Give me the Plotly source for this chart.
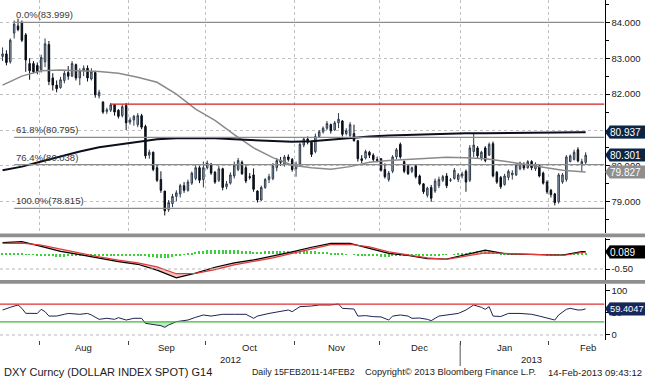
import numpy as np
import pandas as pd
import plotly.graph_objects as go

# ---------------- data ----------------
days = pd.bdate_range("2012-07-18", "2013-02-14")
dates = [d.strftime("%Y-%m-%d") for d in days]

opens = [
    83.05, 83.12, 82.90, 83.70, 83.90, 84.00, 83.65, 82.85, 82.85, 82.80,
    82.68, 82.90, 83.38, 82.45, 82.25, 82.18, 82.38, 82.60, 82.50, 82.82, 82.45, 82.65,
    82.72, 82.42, 82.60, 81.95, 81.78, 81.52, 81.55, 81.70, 81.55, 81.40, 81.68,
    81.22, 81.28, 81.15, 81.40, 81.10, 80.30, 80.38, 79.95, 79.62, 79.30, 78.78, 78.95,
    79.15, 79.22, 79.45, 79.32, 79.52, 79.65, 79.95, 79.62,
    79.95, 80.05, 79.82, 79.60, 79.92, 79.42, 79.52, 79.72, 79.90, 80.10, 79.95, 79.70,
    79.75, 79.30, 79.05, 79.40, 79.62, 79.65, 79.95, 80.15, 80.05, 80.25, 80.18,
    79.92, 80.05, 80.58, 80.75, 80.66, 80.40, 80.82, 80.95, 81.05, 81.15, 81.00, 81.20,
    81.25, 80.90, 80.85, 80.90, 80.70, 80.20, 80.22, 80.38, 80.30, 80.18,
    80.20, 79.90, 79.62, 79.85, 80.25, 80.60, 80.12, 80.00, 79.85, 80.00, 79.72, 79.50,
    79.18, 79.40, 79.30, 79.45, 79.60, 79.72, 79.60, 79.65, 79.62,
    79.72, 79.85, 79.60, 80.40, 80.50, 80.22, 80.50, 80.30, 80.62, 79.82, 79.68, 79.48,
    79.68, 79.75, 79.75, 79.92, 80.02, 79.95, 80.12, 79.92, 80.00, 79.80, 79.55,
    79.32, 79.22, 79.00, 79.55, 79.62, 80.12, 80.18, 80.45, 80.05, 80.10,
]
highs = [
    83.30, 83.22, 83.55, 84.05, 84.10, 84.05, 83.70, 83.00, 82.92, 82.88,
    83.10, 83.55, 83.48, 82.58, 82.38, 82.48, 82.65, 82.78, 82.92, 82.85, 82.72, 82.80,
    82.80, 82.72, 82.65, 82.12, 81.80, 81.62, 81.75, 81.72, 81.58, 81.70, 81.75,
    81.35, 81.42, 81.47, 81.45, 81.15, 80.45, 80.40, 80.05, 79.85, 79.30, 79.05, 79.22,
    79.32, 79.50, 79.55, 79.62, 79.84, 80.02, 80.00, 80.12,
    80.15, 80.08, 79.86, 80.00, 79.95, 79.58, 79.82, 80.12, 80.22, 80.15, 80.02, 79.80,
    79.93, 79.32, 79.45, 79.66, 79.78, 80.08, 80.22, 80.25, 80.30, 80.32, 80.22,
    80.12, 80.65, 80.80, 80.82, 80.70, 80.90, 81.00, 81.10, 81.25, 81.18, 81.25, 81.47,
    81.28, 81.05, 81.22, 81.15, 80.72, 80.30, 80.45, 80.42, 80.35, 80.26,
    80.22, 80.07, 79.86, 80.30, 80.50, 80.65, 80.15, 80.05, 79.98, 80.03, 79.76, 79.52,
    79.42, 79.47, 79.65, 79.70, 79.75, 79.80, 79.66, 79.94, 79.80,
    79.84, 79.90, 80.58, 80.92, 80.55, 80.42, 80.55, 80.65, 80.68, 79.86, 79.72, 79.78,
    79.90, 79.88, 80.08, 80.12, 80.10, 80.16, 80.16, 80.10, 80.04, 79.84, 79.60,
    79.36, 79.25, 79.80, 79.80, 80.30, 80.32, 80.45, 80.52, 80.20, 80.38,
]
lows = [
    82.92, 82.80, 82.85, 83.55, 83.75, 83.45, 82.62, 82.40, 82.58, 82.55,
    82.60, 82.75, 82.25, 82.10, 82.05, 82.15, 82.30, 82.40, 82.48, 82.38, 82.25, 82.50,
    82.35, 82.38, 81.90, 81.88, 81.45, 81.45, 81.50, 81.40, 81.32, 81.35, 81.00,
    81.15, 81.12, 81.08, 81.02, 80.20, 80.20, 79.85, 79.55, 79.25, 78.62, 78.72, 78.85,
    79.02, 79.12, 79.25, 79.28, 79.47, 79.60, 79.52, 79.40,
    79.90, 79.75, 79.50, 79.55, 79.32, 79.35, 79.48, 79.65, 79.85, 79.75, 79.52, 79.62,
    79.28, 78.98, 79.02, 79.36, 79.52, 79.60, 79.85, 80.00, 79.98, 80.12, 79.84,
    79.70, 80.00, 80.52, 80.60, 80.25, 80.35, 80.78, 80.90, 81.00, 80.90, 80.98, 81.05,
    80.82, 80.85, 80.80, 80.68, 80.12, 80.08, 80.18, 80.22, 80.12, 80.10,
    79.84, 79.65, 79.56, 79.80, 80.18, 80.20, 79.80, 79.75, 79.80, 79.65, 79.46, 79.22,
    79.12, 79.00, 79.25, 79.38, 79.55, 79.38, 79.55, 79.62, 79.55,
    79.65, 79.28, 79.55, 80.25, 80.22, 80.15, 80.10, 80.28, 79.68, 79.50, 79.36, 79.45,
    79.60, 79.62, 79.72, 79.88, 79.88, 79.92, 79.88, 79.86, 79.68, 79.48, 79.22,
    79.12, 78.90, 78.95, 79.50, 79.56, 80.10, 80.15, 80.10, 79.85, 80.05,
]
closes = [
    83.12, 82.88, 83.50, 83.95, 83.80, 83.50, 82.95, 82.65, 82.62, 82.62,
    83.02, 83.40, 82.35, 82.25, 82.15, 82.40, 82.58, 82.50, 82.85, 82.45, 82.65, 82.72,
    82.45, 82.62, 81.98, 82.05, 81.50, 81.56, 81.70, 81.50, 81.38, 81.65, 81.20,
    81.28, 81.38, 81.40, 81.08, 80.28, 80.38, 79.90, 79.60, 79.32, 78.75, 78.98, 79.15,
    79.25, 79.45, 79.32, 79.55, 79.80, 79.95, 79.60, 79.95,
    80.08, 79.80, 79.55, 79.92, 79.40, 79.50, 79.75, 80.02, 80.15, 79.78, 79.58, 79.68,
    79.35, 79.05, 79.40, 79.62, 79.70, 80.00, 80.15, 80.10, 80.25, 80.18, 79.90,
    80.05, 80.60, 80.75, 80.66, 80.32, 80.82, 80.95, 81.05, 81.18, 80.98, 81.20, 81.30,
    80.88, 80.98, 81.15, 80.70, 80.20, 80.15, 80.40, 80.30, 80.18, 80.15,
    79.88, 79.70, 79.80, 80.25, 80.45, 80.25, 79.85, 79.78, 79.95, 79.70, 79.50, 79.28,
    79.38, 79.10, 79.58, 79.62, 79.70, 79.45, 79.61, 79.88, 79.75,
    79.78, 79.55, 80.50, 80.58, 80.28, 80.38, 80.15, 80.60, 79.72, 79.55, 79.42, 79.72,
    79.85, 79.80, 80.02, 80.08, 79.94, 80.12, 79.95, 80.05, 79.72, 79.52, 79.28,
    79.20, 78.98, 79.75, 79.75, 80.25, 80.28, 80.38, 80.14, 80.12, 80.30,
]

# moving averages / MACD sampled every 5 trading days (+ last day)
sample_idx = list(range(0, 151, 5)) + [151]
ma_gray = [82.25, 82.50, 82.65, 82.67, 82.65, 82.63, 82.58, 82.47, 82.33, 82.00, 81.58,
           81.27, 80.87, 80.50, 80.23, 80.02, 79.95, 79.91, 79.98, 80.10, 80.15, 80.18,
           80.21, 80.24, 80.23, 80.20, 80.13, 80.05, 79.96, 79.88, 79.84, 79.827]
ma_black = [79.88, 79.98, 80.12, 80.27, 80.40, 80.52, 80.60, 80.68, 80.74, 80.77, 80.78,
            80.77, 80.74, 80.71, 80.69, 80.67, 80.69, 80.74, 80.78, 80.82, 80.85, 80.87,
            80.89, 80.90, 80.91, 80.91, 80.92, 80.92, 80.93, 80.93, 80.94, 80.937]
macd = [0.40, 0.43, 0.27, 0.10, -0.01, -0.13, -0.25, -0.34, -0.54, -0.80, -0.64, -0.44,
        -0.29, -0.19, -0.06, 0.08, 0.24, 0.37, 0.37, 0.21, 0.03, -0.04, -0.15, -0.16,
        -0.01, 0.14, 0.02, 0.01, 0.00, -0.03, 0.09, 0.089]
signal = [0.37, 0.38, 0.31, 0.17, 0.03, -0.09, -0.20, -0.29, -0.43, -0.66, -0.65, -0.52,
          -0.36, -0.25, -0.12, 0.03, 0.17, 0.33, 0.34, 0.25, 0.08, -0.02, -0.12, -0.17,
          -0.05, 0.05, 0.03, 0.01, 0.00, -0.04, 0.06, 0.07]
macd_hist = [
    0.02, 0.03, 0.03, 0.04, 0.04, 0.03, 0.01, -0.01, -0.02, -0.03,
    -0.04, -0.04, -0.06, -0.07, -0.08, -0.08, -0.08, -0.07, -0.07, -0.06, -0.05, -0.05,
    -0.04, -0.04, -0.04, -0.04, -0.05, -0.05, -0.05, -0.05, -0.05, -0.05, -0.05,
    -0.05, -0.05, -0.05, -0.05, -0.07, -0.08, -0.10, -0.11, -0.12, -0.13, -0.12, -0.10,
    -0.07, -0.04, -0.01, 0.02, 0.05, 0.08, 0.10, 0.12,
    0.13, 0.14, 0.15, 0.15, 0.14, 0.14, 0.13, 0.13, 0.13, 0.12, 0.11, 0.10, 0.09, 0.08,
    0.09, 0.10, 0.10, 0.10, 0.11, 0.11, 0.11, 0.10, 0.10,
    0.11, 0.12, 0.12, 0.12, 0.11, 0.10, 0.09, 0.08, 0.07, 0.06, 0.05, 0.04, 0.02, 0.01,
    0.00, -0.01, -0.03, -0.04, -0.05, -0.06, -0.07, -0.07,
    -0.08, -0.08, -0.08, -0.07, -0.06, -0.04, -0.03, -0.02, -0.02, -0.02, -0.03, -0.03,
    -0.04, -0.04, -0.04, -0.03, -0.02, -0.01, 0.00, 0.01, 0.02,
    0.03, 0.04, 0.07, 0.09, 0.10, 0.11, 0.11, 0.11, 0.09, 0.07, 0.05, 0.04, 0.03, 0.02,
    0.01, 0.01, 0.01, 0.00, 0.00, 0.00, -0.01, -0.02, -0.03,
    -0.04, -0.05, -0.04, -0.02, 0.00, 0.02, 0.04, 0.05, 0.05, 0.05,
]
rsi_idx = [0, 1, 2, 4, 5, 6, 8, 9, 10, 11, 12, 14, 16, 17, 20, 22, 23, 25, 27, 29,
           30, 32, 34, 36, 37, 39, 41, 42, 43, 45, 48, 50, 52, 54, 57, 60, 63, 65, 66, 69,
           72, 74, 75, 77, 80, 82, 85, 87, 88, 89, 91, 92, 94, 96, 98, 100, 101, 103, 105, 106,
           108, 110, 111, 113, 115, 118, 120, 122, 124, 125, 126, 127, 129, 131, 134, 137, 139,
           142, 143, 144, 146, 147, 149, 150, 151]
rsi_vals = [56.8, 60.6, 62.9, 68.2, 60.6, 49.2, 49.0, 49.0, 58.3, 53.0, 43.0, 43.0, 47.0,
            49.0, 47.0, 49.0, 45.5, 35.6, 37.9, 35.6, 39.4, 34.0, 37.9, 37.9, 26.5, 24.2,
            21.2, 17.4, 22.7, 30.3, 34.0, 40.2, 45.5, 43.0, 47.0, 47.0, 47.0, 37.9, 43.0,
            49.0, 54.5, 56.8, 53.0, 64.4, 65.9, 68.2, 68.2, 70.5, 60.6, 59.5, 59.0, 43.0,
            44.0, 41.7, 41.0, 34.0, 43.0, 45.5, 43.0, 37.9, 38.5, 35.6, 32.6, 43.0, 45.5,
            49.0, 56.8, 68.2, 62.9, 58.3, 64.4, 43.0, 42.0, 49.0, 49.0, 47.0, 43.0, 35.6,
            34.0, 45.5, 58.3, 60.6, 56.8, 57.0, 59.4]

fib_pcts = ["0.0%", "61.8%", "76.4%", "100.0%"]
fib_levels = [83.999, 80.795, 80.038, 78.815]
fib_start = "2012-07-23"
red_level = 81.72
red_start = "2012-08-27"
rsi_upper, rsi_lower = 70, 30

price_ticks = [79, 80, 81, 82, 83, 84]
hidden_price_labels = [81]          # covered by the 80.937 value tag in the original
month_names = ["Aug", "Sep", "Oct", "Nov", "Dec", "Jan", "Feb"]
month_label_dates = ["2012-08-16", "2012-09-14 12:00", "2012-10-16", "2012-11-15 12:00",
                     "2012-12-17", "2013-01-16", "2013-02-14 12:00"]
year_names = ["2012", "2013"]
year_label_dates = ["2012-10-09", "2013-01-25"]

tags_main = [(80.937, "80.937", "#0c2544", "white"),
             (80.301, "80.301", "#0c2544", "white"),
             (79.827, "79.827", "#8e8e8e", "white")]
tag_macd = (0.089, "0.089", "#000000", "white")
tag_rsi = (59.4047, "59.4047", "#16285a", "white")

# ---------------- layout helpers ----------------
W, H = 645, 378
XD = 604.5 / W
def py(p):
    return 1 - p / H

x_range = ["2012-07-17 08:00", "2013-02-20 21:00"]
rb = [dict(bounds=["sat", "mon"])]
FONT = "Liberation Sans"

# month boundaries: half a day after the last trading day of each month
boundaries = []
for i in range(1, len(days)):
    if days[i].month != days[i - 1].month:
        boundaries.append((days[i - 1] + pd.Timedelta(hours=12)).strftime("%Y-%m-%d %H:%M"))
year_sep = [b for b in boundaries if b.startswith("2012-12")][0]

fig = go.Figure()

# main price panel
fig.add_trace(go.Candlestick(
    x=dates, open=opens, high=highs, low=lows, close=closes,
    increasing=dict(line=dict(color="#2e3b4b", width=1), fillcolor="#a3b3c5"),
    decreasing=dict(line=dict(color="#0a0f18", width=1), fillcolor="#0a0f18"),
    whiskerwidth=0, xaxis="x", yaxis="y", hoverinfo="skip"))
sdates = [dates[i] for i in sample_idx]
fig.add_trace(go.Scatter(x=sdates, y=ma_gray, mode="lines",
                         line=dict(color="#8a8a8a", width=1.5), xaxis="x", yaxis="y"))
fig.add_trace(go.Scatter(x=sdates, y=ma_black, mode="lines",
                         line=dict(color="#0b0f1c", width=2), xaxis="x", yaxis="y"))

# MACD panel
fig.add_trace(go.Bar(x=dates, y=macd_hist, marker=dict(color="#3ccf3c", line=dict(width=0)),
                     width=0.35 * 86400000, xaxis="x2", yaxis="y2"))
fig.add_trace(go.Scatter(x=sdates, y=macd, mode="lines",
                         line=dict(color="#000000", width=1.2), xaxis="x2", yaxis="y2"))
fig.add_trace(go.Scatter(x=sdates, y=signal, mode="lines", fill="tonexty",
                         fillcolor="rgba(240,140,140,0.55)",
                         line=dict(color="#e03a3a", width=1.2), xaxis="x2", yaxis="y2"))

# RSI panel
rdates = [dates[i] for i in rsi_idx]
low_sel = [k for k, i in enumerate(rsi_idx) if 36 <= i <= 48]
low_dates = [rdates[k] for k in low_sel]
fig.add_trace(go.Scatter(x=low_dates, y=[rsi_lower] * len(low_sel), mode="lines",
                         line=dict(width=0), xaxis="x3", yaxis="y3"))
fig.add_trace(go.Scatter(x=low_dates, y=np.minimum([rsi_vals[k] for k in low_sel], rsi_lower),
                         mode="lines", line=dict(width=0), fill="tonexty",
                         fillcolor="rgba(140,225,140,0.6)", xaxis="x3", yaxis="y3"))
fig.add_trace(go.Scatter(x=rdates, y=rsi_vals, mode="lines",
                         line=dict(color="#1c2452", width=1), xaxis="x3", yaxis="y3"))

shapes = []
annotations = []

# fib lines & labels
for pct, lvl in zip(fib_pcts, fib_levels):
    shapes.append(dict(type="line", xref="x", yref="y", x0=fib_start, x1=x_range[1],
                       y0=lvl, y1=lvl, line=dict(color="#8c8c8c", width=1.2)))
    annotations.append(dict(xref="x", yref="y", x=fib_start, y=lvl, text=f"{pct}({lvl:.3f})",
                            showarrow=False, xanchor="left", yanchor="bottom", yshift=0,
                            font=dict(family=FONT, size=9.5, color="#3a3a3a")))
shapes.append(dict(type="line", xref="x", yref="y", x0=red_start, x1=x_range[1],
                   y0=red_level, y1=red_level, line=dict(color="#cc2020", width=1.2)))

# RSI reference lines, dotted guides
shapes.append(dict(type="line", xref="x3", yref="y3", x0=x_range[0], x1=x_range[1],
                   y0=rsi_upper, y1=rsi_upper, line=dict(color="#e03030", width=1.2)))
shapes.append(dict(type="line", xref="x3", yref="y3", x0=x_range[0], x1=x_range[1],
                   y0=rsi_lower, y1=rsi_lower, line=dict(color="#3cba3c", width=1.2)))
shapes.append(dict(type="line", xref="x3", yref="y3", x0=x_range[0], x1=x_range[1],
                   y0=0, y1=0, line=dict(color="#b5b5b5", width=1, dash="dot")))
shapes.append(dict(type="line", xref="x2", yref="y2", x0=x_range[0], x1=x_range[1],
                   y0=-0.5, y1=-0.5, line=dict(color="#b5b5b5", width=1, dash="dot")))

# panel separators
for top in (233.5, 280):
    shapes.append(dict(type="rect", xref="paper", yref="paper", x0=0, x1=1,
                       y0=py(top + 3.8), y1=py(top), fillcolor="#8f8f8f", line=dict(width=0)))

# year separator
shapes.append(dict(type="line", xref="x3", yref="paper", x0=year_sep, x1=year_sep,
                   y0=py(366), y1=py(343), line=dict(color="#555555", width=1)))

# value tags
def add_tag(yref, val, text, bg, fg, size=10):
    shapes.append(dict(type="path", xref="paper", yref=yref, xsizemode="pixel",
                       ysizemode="pixel", xanchor=XD, yanchor=val,
                       path="M 0.5 0 L 5 6 L 41 6 L 41 -6 L 5 -6 Z",
                       fillcolor=bg, line=dict(width=0), layer="above"))
    annotations.append(dict(xref="paper", yref=yref, x=XD + 4.5 / W, y=val, text=text,
                            showarrow=False, xanchor="left", yanchor="middle",
                            bgcolor=bg, width=36, height=12, align="left", borderpad=0,
                            font=dict(family=FONT, size=size, color=fg)))

for v, t, bg, fg in tags_main:
    add_tag("y", v, t, bg, fg)
add_tag("y2", *tag_macd)
add_tag("y3", *tag_rsi, size=9.3)

# month and year labels
for name, d in zip(month_names, month_label_dates):
    annotations.append(dict(xref="x3", yref="paper", x=d, y=py(347.5), text=name,
                            showarrow=False, xanchor="center", yanchor="middle",
                            font=dict(family=FONT, size=9.5, color="#1a1a1a")))
for name, d in zip(year_names, year_label_dates):
    annotations.append(dict(xref="x3", yref="paper", x=d, y=py(359), text=name,
                            showarrow=False, xanchor="center", yanchor="middle",
                            font=dict(family=FONT, size=9.5, color="#1a1a1a")))

# footer
footer = [("DXY Curncy (DOLLAR INDEX SPOT) G14", 2, "left", 11),
          ("Daily 15FEB2011-14FEB2", 250, "left", 8.8),
          ("Copyright\u00a9 2013 Bloomberg Finance L.P.", 363, "left", 9.3),
          ("14-Feb-2013 09:43:12", 644, "right", 9.5)]
for text, px, anc, sz in footer:
    annotations.append(dict(xref="paper", yref="paper", x=px / W, y=py(372), text=text,
                            showarrow=False, xanchor=anc, yanchor="middle",
                            font=dict(family=FONT, size=sz, color="#1a1a1a")))

xcommon = dict(type="date", range=x_range, rangebreaks=rb, domain=[0, XD],
               tickvals=boundaries, showticklabels=False, zeroline=False, showline=False,
               rangeslider=dict(visible=False))
ycommon = dict(side="right", showline=True, linecolor="#000000", linewidth=1,
               ticks="outside", ticklen=4, tickcolor="#000000", zeroline=False,
               tickfont=dict(family=FONT, size=9.5, color="#1a1a1a"))

fig.update_layout(
    width=W, height=H, margin=dict(l=0, r=0, t=0, b=0),
    paper_bgcolor="white", plot_bgcolor="white", showlegend=False,
    boxgap=0.45, bargap=0,
    font=dict(family=FONT, size=9.5, color="#1a1a1a"),
    xaxis=dict(**xcommon, anchor="y", ticks="", showgrid=True, gridcolor="#c0c0c0",
               griddash="dot", gridwidth=1),
    xaxis2=dict(**xcommon, anchor="y2", matches="x", ticks="", showgrid=False),
    xaxis3=dict(**xcommon, anchor="y3", matches="x", ticks="outside", ticklen=4,
                tickcolor="#444444", showgrid=False),
    yaxis=dict(**ycommon, anchor="x", domain=[py(233), 1], range=[78.131, 84.621],
               tickmode="array", tickvals=price_ticks,
               ticktext=["" if t in hidden_price_labels else f"{t:.3f}" for t in price_ticks],
               showgrid=True, gridcolor="#c0c0c0", griddash="dot",
               minor=dict(tickmode="linear", tick0=0.5, dtick=1, ticks="outside", ticklen=3,
                          tickcolor="#000000", showgrid=False)),
    yaxis2=dict(**ycommon, anchor="x2", domain=[py(280), py(238)], range=[-0.874, 0.554],
                tickmode="array", tickvals=[-0.5, 0.5], ticktext=["-0.50", ""], showgrid=False),
    yaxis3=dict(**ycommon, anchor="x3", domain=[py(340), py(284)], range=[-11.4, 115.9],
                tickmode="array", tickvals=[0, 50, 100], ticktext=["0", "50", "100"],
                showgrid=False),
    shapes=shapes, annotations=annotations,
)

fig.write_html("out.html", config={"displayModeBar": False},
               post_script="document.body.style.margin='0';document.body.style.overflow='hidden';")
